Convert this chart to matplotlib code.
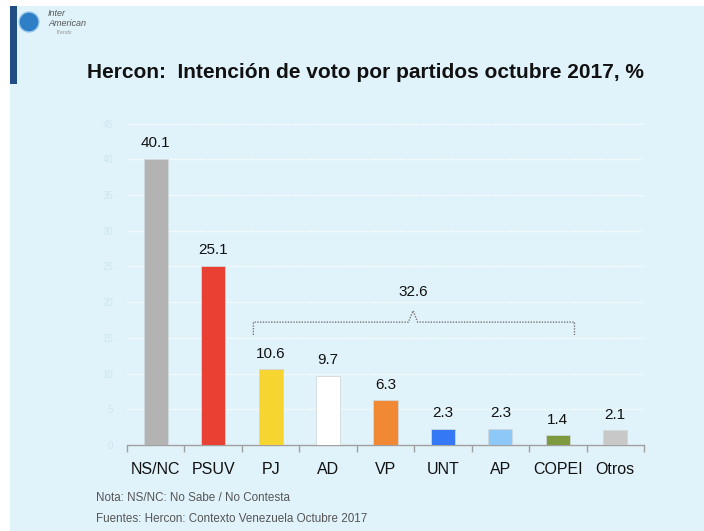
import matplotlib.pyplot as plt
import matplotlib.patches as mpatches
import numpy as np

# Data
partidos = ['NS/NC', 'PSUV', 'PJ', 'AD', 'VP', 'UNT', 'AP', 'COPEI', 'Otros']
valores = [40.1, 25.1, 10.6, 9.7, 6.3, 2.3, 2.3, 1.4, 2.1]
colores = ['#b3b3b3', '#e84032', '#f7d531', '#ffffff', '#f08834',
           '#3478f6', '#8dc8f8', '#7e9a3e', '#c8c8c8']
oposicion_total = 32.6
y_ticks = [0, 5, 10, 15, 20, 25, 30, 35, 40, 45]

bg = '#e1f3fa'
plt.rcParams['font.family'] = ['Liberation Sans', 'DejaVu Sans']

fig = plt.figure(figsize=(7.04, 5.31), dpi=100)
fig.patch.set_facecolor('white')

# slide background
fig.patches.append(mpatches.Rectangle((10 / 704, 0), 1, 1 - 6 / 531, transform=fig.transFigure,
                                      facecolor=bg, edgecolor='none', zorder=-10))
# dark blue strip at left
fig.patches.append(mpatches.Rectangle((10 / 704, 1 - 84 / 531), 7 / 704, 78 / 531,
                                      transform=fig.transFigure, facecolor='#1f4e85',
                                      edgecolor='none', zorder=-5))
# logo
fig.patches.append(mpatches.Ellipse((29 / 704, 1 - 22 / 531), 20 / 704, 20 / 531,
                                    transform=fig.transFigure, facecolor='#2f7fc6',
                                    edgecolor='#9cc9ec', linewidth=1))
fig.text(48 / 704, 1 - 14 / 531, 'Inter', fontsize=6.5, style='italic', color='#555555',
         va='center', ha='left')
fig.text(48 / 704, 1 - 23 / 531, 'American', fontsize=6.5, style='italic', color='#555555',
         va='center', ha='left')
fig.text(55 / 704, 1 - 32 / 531, 'Trends', fontsize=4, style='italic', color='#999999',
         va='center', ha='left')

ax = fig.add_axes([127 / 704, 86 / 531, 517 / 704, 324 / 531])
ax.set_facecolor(bg)

x = np.arange(len(partidos))
ax.bar(x, valores, width=0.42, color=colores, edgecolor='#d0d8dc', linewidth=0.6, zorder=3)

for xi, v in zip(x, valores):
    ax.annotate(f'{v:.1f}', (xi, v), xytext=(0, 6), textcoords='offset points',
                ha='center', va='bottom', fontsize=11, color='#111111')

ax.set_xlim(-0.5, len(partidos) - 0.5)
ax.set_ylim(0, 45.35)
ax.set_yticks(y_ticks)
ax.yaxis.grid(True, color='white', linestyle=(0, (1, 1)), linewidth=1.0, zorder=0)
ax.tick_params(axis='y', length=0, labelsize=7, labelcolor='#cde6ef', pad=10)

ax.set_xticks(x)
ax.set_xticklabels(partidos, fontsize=11.5, color='#111111')
ax.set_xticks(np.arange(-0.5, len(partidos)), minor=True)
ax.tick_params(axis='x', which='major', length=0, pad=12)
ax.tick_params(axis='x', which='minor', length=5, color='#a0a0a0', width=1)

for s in ['top', 'right', 'left']:
    ax.spines[s].set_visible(False)
ax.spines['bottom'].set_color('#a0a0a0')
ax.spines['bottom'].set_linewidth(1)

# bracket over the opposition parties
bx0, bx1, bmid = 1.70, 7.29, 4.48
ax.plot([bx0, bx0, bmid - 0.08, bmid, bmid + 0.08, bx1, bx1],
        [15.4, 17.2, 17.2, 18.8, 17.2, 17.2, 15.4],
        color='#777777', linestyle=(0, (1, 1)), linewidth=1.0, zorder=4)
ax.text(bmid, 21.4, f'{oposicion_total:.1f}', ha='center', va='center',
        fontsize=11, color='#111111')

fig.text(365 / 704, 1 - 73 / 531, 'Hercon:  Intención de voto por partidos octubre 2017, %',
         ha='center', va='center', fontsize=15, fontweight='bold', color='#111111')

fig.text(96 / 704, 1 - 498 / 531, 'Nota: NS/NC: No Sabe / No Contesta',
         fontsize=8.4, color='#555555', va='center', ha='left')
fig.text(96 / 704, 1 - 519 / 531, 'Fuentes: Hercon: Contexto Venezuela Octubre 2017',
         fontsize=8.4, color='#555555', va='center', ha='left')

plt.savefig('out.png', dpi=100)
